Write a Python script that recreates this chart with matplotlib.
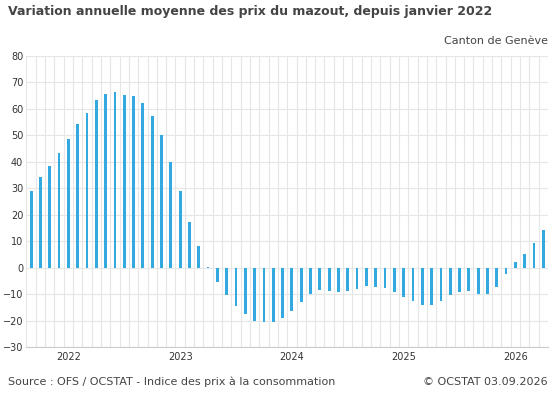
import numpy as np
import matplotlib
matplotlib.use("Agg")
import matplotlib.pyplot as plt

# monthly values, Jan 2022 onward
values = [29, 34.3, 38.5, 43.5, 48.5, 54.3, 58.5, 63.5, 65.8, 66.3, 65.3, 64.8,
          62.3, 57.5, 50.3, 40.0, 28.8, 17.2, 8.2, 0.3,
          -5.3, -10.3, -14.5, -17.5, -20.0, -20.7, -20.5,
          -19.0, -16.5, -13.0, -10.0, -8.5, -8.8, -9.2, -9.0, -8.2, -6.8, -7.2,
          -7.8, -9.2, -11.0, -12.5, -14.0, -14.0, -12.5, -10.5, -9.2, -9.0,
          -10.0, -10.0, -7.2, -2.5, 2.2, 5.3, 9.2, 14.2]
year_labels = ["2022", "2023", "2024", "2025", "2026"]
year_pos = [4, 16, 28, 40, 52]

GRID = "#e6e6e6"
TXT = "#444444"

fig = plt.figure(figsize=(5.57, 4.0), dpi=100)
ax = fig.add_axes([26 / 557, 1 - 347 / 400, (548 - 26) / 557, (347 - 56) / 400])

x = np.arange(len(values))
ax.bar(x, values, width=0.3, color="#33a9e0", zorder=3)

ax.set_xlim(-0.55, len(values) - 0.5)
ax.set_ylim(-30, 80)
ax.set_yticks(range(-30, 81, 10))
ax.set_xticks(x - 0.5, minor=True)
ax.set_xticks(year_pos)
ax.set_xticklabels(year_labels)
ax.grid(axis="y", color=GRID, lw=0.8, zorder=0)
ax.grid(axis="x", which="minor", color=GRID, lw=0.8, zorder=0)
ax.tick_params(axis="both", which="both", length=0, labelsize=7, colors="#333333")
ax.tick_params(axis="y", pad=2)
for s in ax.spines.values():
    s.set_visible(False)
ax.spines["bottom"].set_visible(True)
ax.spines["bottom"].set_color("#cccccc")
ax.spines["bottom"].set_linewidth(0.8)
ax.spines["bottom"].set_position(("data", -30))

fig.text(8 / 557, 1 - 12 / 400, "Variation annuelle moyenne des prix du mazout, depuis janvier 2022",
         fontsize=9, fontweight="bold", color=TXT, va="center")
fig.text(548 / 557, 1 - 41 / 400, "Canton de Genève", fontsize=8, color=TXT, ha="right", va="center")
fig.text(8 / 557, 1 - 382 / 400, "Source : OFS / OCSTAT - Indice des prix à la consommation",
         fontsize=8, color=TXT, va="center")
fig.text(548 / 557, 1 - 382 / 400, "© OCSTAT 03.09.2026", fontsize=8, color=TXT, ha="right", va="center")

fig.savefig("out.png", dpi=100)
